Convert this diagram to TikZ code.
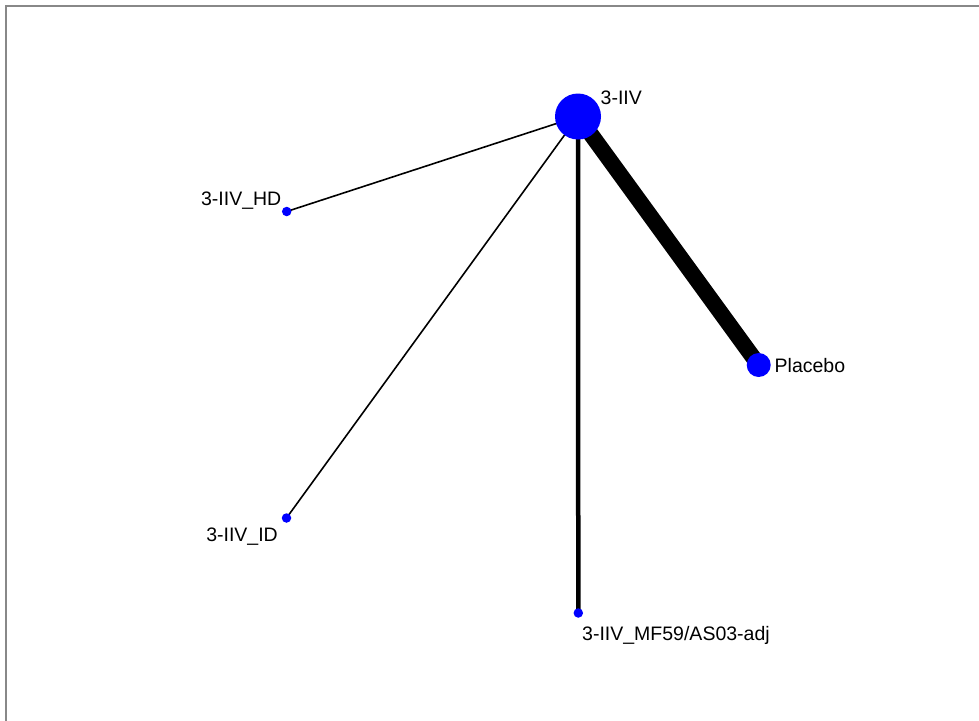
\documentclass[tikz,border=0pt]{standalone}
\usepackage{fontspec}
\setmainfont{Liberation Sans}
\usepackage{tikz}
\usetikzlibrary{backgrounds}
\definecolor{framegray}{RGB}{136,136,136}
\tikzset{trt/.style={shape=circle,fill=blue,draw=none,inner sep=0pt},
         lbl/.style={inner sep=0pt,font=\fontsize{19.5}{22}\selectfont}}

\begin{document}
\begin{tikzpicture}[x=1pt, y=-1pt]
    \useasboundingbox (0,0) rectangle (979,720);
    \draw[framegray, line width=2pt] (5.5,740) -- (5.5,6) -- (1000,6);

    % treatments
    \node[trt, minimum size=46pt] (iiv) at (578,116.5) {};
    \node[trt, minimum size=24pt] (pla) at (758.7,365) {};
    \node[trt, minimum size=9.5pt] (hd) at (286.7,211.5) {};
    \node[trt, minimum size=9.5pt] (id) at (286.5,518) {};
    \node[trt, minimum size=9.5pt] (mf) at (578.3,613) {};

    % comparisons, width by number of studies
    \begin{scope}[on background layer]
    \draw[line width=16pt] (iiv.center) -- (pla.center);
    \draw[line width=4.5pt] (iiv.center) -- (mf.center);
    \draw[line width=1.6pt] (iiv.center) -- (hd.center);
    \draw[line width=1.6pt] (iiv.center) -- (id.center);
    \end{scope}

    \node[lbl, anchor=base west] (iivlbl) at (600.5,104) {3-IIV};
    \node[lbl, anchor=base west] (plalbl) at (774.5,372.3) {Placebo};
    \node[lbl, anchor=base east] (hdlbl) at (281.5,205) {3-IIV\_HD};
    \node[lbl, anchor=base east] (idlbl) at (278,541.5) {3-IIV\_ID};
    \node[lbl, anchor=base west] (mflbl) at (582,640) {3-IIV\_MF59/AS03-adj};
\end{tikzpicture}
\end{document}
